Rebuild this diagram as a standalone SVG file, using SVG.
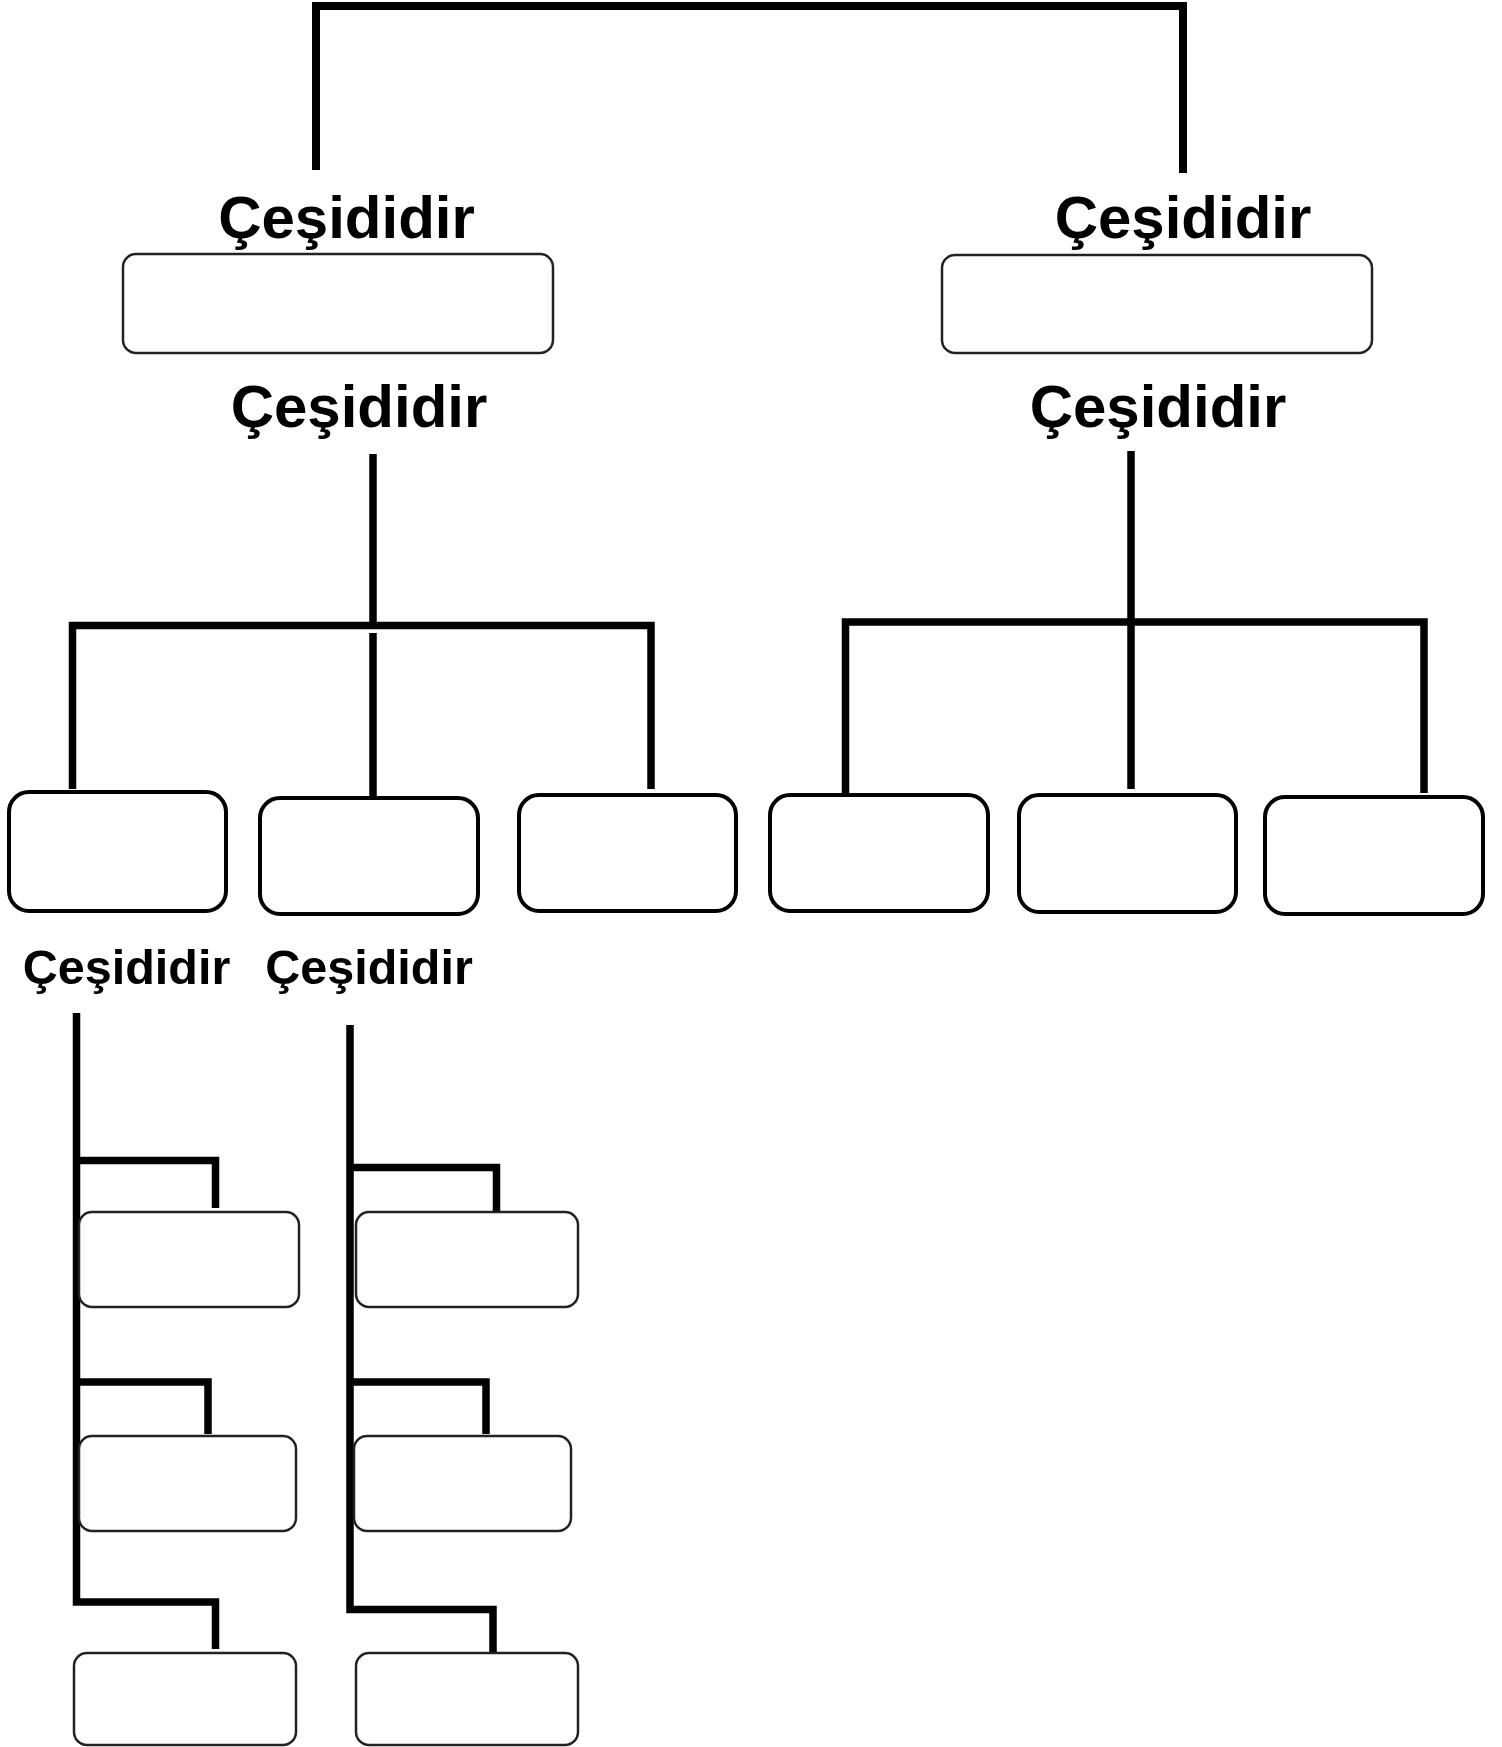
<svg xmlns="http://www.w3.org/2000/svg" width="1502" height="1747" viewBox="0 0 1502 1747">
<style>
  .lbl { font-family: "Liberation Sans", Arial, sans-serif; font-weight: bold; fill: #000; text-anchor: middle; }
  .big { font-size: 60px; }
  .small { font-size: 48.5px; }
  .conn { fill: none; stroke: #000; stroke-linejoin: miter; stroke-linecap: butt; }
  .thin { fill: #fff; stroke: #222; stroke-width: 2.5; }
  .thick { fill: #fff; stroke: #000; stroke-width: 4; }
</style>
<rect x="0" y="0" width="1502" height="1747" fill="#fff"/>
<g id="connectors">
  <path class="conn" stroke-width="8" d="M316,170 V6 H1183 V173"/>
  <path class="conn" stroke-width="7.5" d="M373,454 V626"/>
  <path class="conn" stroke-width="7.5" d="M72.5,789 V625.5 H651 V789"/>
  <path class="conn" stroke-width="7.5" d="M373,633 V799"/>
  <path class="conn" stroke-width="7.5" d="M1131,451 V789"/>
  <path class="conn" stroke-width="7.5" d="M845.5,793 V622 H1424 V793"/>
  <path class="conn" stroke-width="7.5" d="M76.5,1013 V1602 H215.5 V1649"/>
  <path class="conn" stroke-width="7.5" d="M76.5,1160.5 H215.5 V1208"/>
  <path class="conn" stroke-width="7.5" d="M76.5,1382 H208 V1434"/>
  <path class="conn" stroke-width="7.5" d="M350,1025 V1609.5 H493 V1653"/>
  <path class="conn" stroke-width="7.5" d="M350,1167.5 H496.5 V1212"/>
  <path class="conn" stroke-width="7.5" d="M350,1382 H486 V1434"/>
</g>
<g id="label-top-left"><text class="lbl big" x="346.5" y="238">Çeşididir</text></g>
<g id="label-top-right"><text class="lbl big" x="1183" y="238">Çeşididir</text></g>
<g id="node-top-left"><rect class="thin" x="123" y="254" width="430" height="99" rx="13"/></g>
<g id="node-top-right"><rect class="thin" x="942" y="255" width="430" height="98" rx="13"/></g>
<g id="label-mid-left"><text class="lbl big" x="359" y="427">Çeşididir</text></g>
<g id="label-mid-right"><text class="lbl big" x="1158" y="427">Çeşididir</text></g>
<g id="node-l1"><rect class="thick" x="9" y="792" width="217" height="119" rx="20"/></g>
<g id="node-l2"><rect class="thick" x="260" y="798" width="218" height="116" rx="20"/></g>
<g id="node-l3"><rect class="thick" x="519" y="795" width="217" height="116" rx="20"/></g>
<g id="node-r1"><rect class="thick" x="770" y="795" width="218" height="116" rx="20"/></g>
<g id="node-r2"><rect class="thick" x="1019" y="795" width="217" height="117" rx="20"/></g>
<g id="node-r3"><rect class="thick" x="1265" y="797" width="218" height="117" rx="20"/></g>
<g id="label-low-left"><text class="lbl small" x="126.5" y="984">Çeşididir</text></g>
<g id="label-low-right"><text class="lbl small" x="369" y="984">Çeşididir</text></g>
<g id="node-bl1"><rect class="thin" x="79" y="1212" width="220" height="95" rx="13"/></g>
<g id="node-bl2"><rect class="thin" x="79" y="1436" width="217" height="95" rx="13"/></g>
<g id="node-bl3"><rect class="thin" x="74" y="1653" width="222" height="92" rx="13"/></g>
<g id="node-br1"><rect class="thin" x="356" y="1212" width="222" height="95" rx="13"/></g>
<g id="node-br2"><rect class="thin" x="354" y="1436" width="217" height="95" rx="13"/></g>
<g id="node-br3"><rect class="thin" x="356" y="1653" width="222" height="92" rx="13"/></g>
</svg>
